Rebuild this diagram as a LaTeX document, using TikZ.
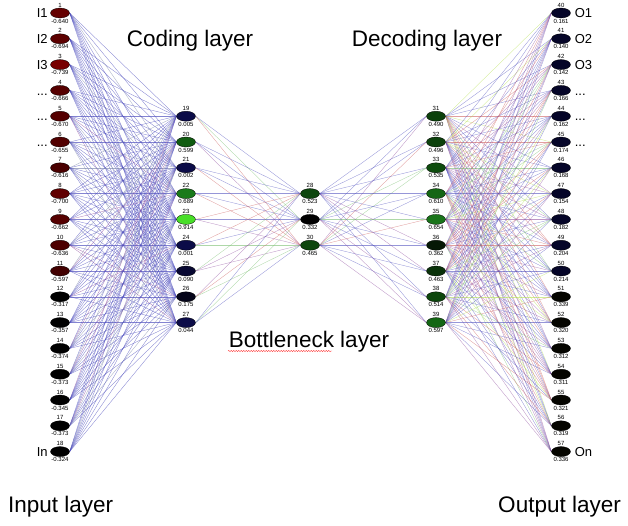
\documentclass[tikz,border=0pt]{standalone}
\usepackage{fontspec}
\setmainfont{Liberation Sans}
\usetikzlibrary{shapes.geometric, positioning, backgrounds, decorations.pathmorphing}

\definecolor{wblue}{RGB}{80,80,190}
\definecolor{wpurple}{RGB}{145,80,160}
\definecolor{wred}{RGB}{205,95,95}
\definecolor{wgreen}{RGB}{120,190,110}
\definecolor{wlime}{RGB}{180,225,80}
\definecolor{wgrey}{RGB}{130,140,175}

\tikzset{
  neuron/.style={ellipse, draw=black, line width=0.3pt, minimum width=19pt, minimum height=10pt, inner sep=0pt, label distance=1pt},
  num/.style={font=\fontsize{6}{6}\selectfont, inner sep=0.5pt},
  iolabel/.style={font=\fontsize{13}{13}\selectfont, inner sep=0pt, text height=9.3pt, text depth=0pt},
  title/.style={font=\fontsize{22.5}{22.5}\selectfont, inner sep=0pt},
  wire/.style={line width=0.35pt, opacity=0.6},
  spell/.style={red!80, line width=0.4pt, decorate, decoration={snake, amplitude=0.6pt, segment length=2.5pt}}
}

\begin{document}
\begin{tikzpicture}[x=1pt, y=-1pt]
  \useasboundingbox (0,0) rectangle (628,525);

  % input layer
  \foreach \k/\v/\R in {1/-0.640/101, 2/-0.694/92, 3/-0.739/120, 4/-0.666/86, 5/-0.670/85, 6/-0.655/82,
      7/-0.616/74, 8/-0.700/96, 9/-0.662/85, 10/-0.636/76, 11/-0.597/66, 12/-0.317/0,
      13/-0.357/0, 14/-0.374/0, 15/-0.373/0, 16/-0.345/0, 17/-0.373/0, 18/-0.324/0} {
    \pgfmathsetmacro\yy{13+25.8*(\k-1)}
    \definecolor{nodefill}{RGB}{\R,0,0}
    \node[neuron, fill=nodefill, label={[num]above:\k}, label={[num]below:\v}] (in\k) at (60,\yy) {};
  }

  % coding layer
  \foreach \j/\v/\R/\G/\B in {1/0.005/12/12/72, 2/0.599/16/92/16, 3/0.002/12/12/72, 4/0.689/26/122/26,
      5/0.914/72/222/40, 6/0.001/12/12/72, 7/0.090/8/8/50, 8/0.175/5/5/26, 9/0.044/12/12/72} {
    \pgfmathtruncatemacro\nn{18+\j}
    \pgfmathsetmacro\yy{13+25.8*(\j+3)}
    \definecolor{nodefill}{RGB}{\R,\G,\B}
    \node[neuron, fill=nodefill, label={[num]above:\nn}, label={[num]below:\v}] (cod\j) at (186,\yy) {};
  }

  % bottleneck layer
  \foreach \j/\v/\R/\G/\B in {1/0.523/14/70/14, 2/0.332/0/0/0, 3/0.465/14/70/14} {
    \pgfmathtruncatemacro\nn{27+\j}
    \pgfmathsetmacro\yy{13+25.8*(\j+6)}
    \definecolor{nodefill}{RGB}{\R,\G,\B}
    \node[neuron, fill=nodefill, label={[num]above:\nn}, label={[num]below:\v}] (bot\j) at (310,\yy) {};
  }

  % decoding layer
  \foreach \j/\v/\R/\G/\B in {1/0.490/12/65/12, 2/0.496/12/65/12, 3/0.535/14/76/14, 4/0.610/20/102/20,
      5/0.654/26/116/26, 6/0.362/5/24/5, 7/0.463/10/50/10, 8/0.514/12/70/12, 9/0.597/20/102/20} {
    \pgfmathtruncatemacro\nn{30+\j}
    \pgfmathsetmacro\yy{13+25.8*(\j+3)}
    \definecolor{nodefill}{RGB}{\R,\G,\B}
    \node[neuron, fill=nodefill, label={[num]above:\nn}, label={[num]below:\v}] (dec\j) at (436,\yy) {};
  }

  % output layer
  \foreach \k/\v/\B in {1/0.161/40, 2/0.140/40, 3/0.142/40, 4/0.166/40, 5/0.162/40, 6/0.174/40,
      7/0.168/40, 8/0.154/40, 9/0.182/40, 10/0.204/40, 11/0.214/40, 12/0.339/0,
      13/0.320/0, 14/0.312/0, 15/0.311/0, 16/0.321/0, 17/0.319/0, 18/0.336/0} {
    \pgfmathtruncatemacro\nn{39+\k}
    \pgfmathsetmacro\yy{13+25.8*(\k-1)}
    \definecolor{nodefill}{RGB}{5,5,\B}
    \node[neuron, fill=nodefill, label={[num]above:\nn}, label={[num]below:\v}] (out\k) at (561,\yy) {};
  }

  % weights
  \pgfmathsetseed{42}
  \begin{scope}[on background layer]
    \foreach \a in {1,...,18} {\foreach \b in {1,...,9} {
      \pgfmathrandominteger{\wc}{0}{9}
      \edef\col{\ifcase\wc\space wpurple\or wgrey\else wblue\fi}
      \draw[wire, draw=\col, opacity=0.7] (in\a.east) -- (cod\b.west);
    }}
    \foreach \a in {1,...,9} {\foreach \b in {1,...,3} {
      \pgfmathrandominteger{\wc}{0}{9}
      \edef\col{\ifcase\wc\space wred\or wred\or wgreen\or wgreen\or wpurple\else wblue\fi}
      \draw[wire, draw=\col] (cod\a.east) -- (bot\b.west);
      \pgfmathrandominteger{\wc}{0}{9}
      \edef\col{\ifcase\wc\space wred\or wred\or wgreen\or wgreen\or wpurple\else wblue\fi}
      \draw[wire, draw=\col] (bot\b.east) -- (dec\a.west);
    }}
    \foreach \a in {1,...,9} {\foreach \b in {1,...,18} {
      \pgfmathrandominteger{\wc}{0}{19}
      \edef\col{\ifcase\wc\space wpurple\or wpurple\or wpurple\or wpurple\or wred\or wred\or wred\or wgreen\or wgreen\or wlime\else wblue\fi}
      \draw[wire, draw=\col] (dec\a.east) -- (out\b.west);
    }}
  \end{scope}

  % side labels
  \node[iolabel, left=2.5pt of in1] (i1) {I1};
  \node[iolabel, left=2.5pt of in2] (i2) {I2};
  \node[iolabel, left=2.5pt of in3] (i3) {I3};
  \node[iolabel, left=2.5pt of in4] (i4) {...};
  \node[iolabel, left=2.5pt of in5] (i5) {...};
  \node[iolabel, left=2.5pt of in6] (i6) {...};
  \node[iolabel, left=2.5pt of in18] (in) {In};
  \node[iolabel, right=4pt of out1] (o1) {O1};
  \node[iolabel, right=4pt of out2] (o2) {O2};
  \node[iolabel, right=4pt of out3] (o3) {O3};
  \node[iolabel, right=4pt of out4] (o4) {...};
  \node[iolabel, right=4pt of out5] (o5) {...};
  \node[iolabel, right=4pt of out6] (o6) {...};
  \node[iolabel, right=4pt of out18] (on) {On};

  % layer names
  \node[title, anchor=base] (codname) at (190,46) {Coding layer};
  \node[title, anchor=base] (decname) at (427,46) {Decoding layer};
  \node[title, anchor=base] (botname) at (309,347) {Bottleneck layer};
  \draw[spell] (228,351) -- (332,351);
  \node[title, anchor=base west] (inname) at (8,512) {Input layer};
  \node[title, anchor=base east] (outname) at (621,512) {Output layer};
\end{tikzpicture}
\end{document}
